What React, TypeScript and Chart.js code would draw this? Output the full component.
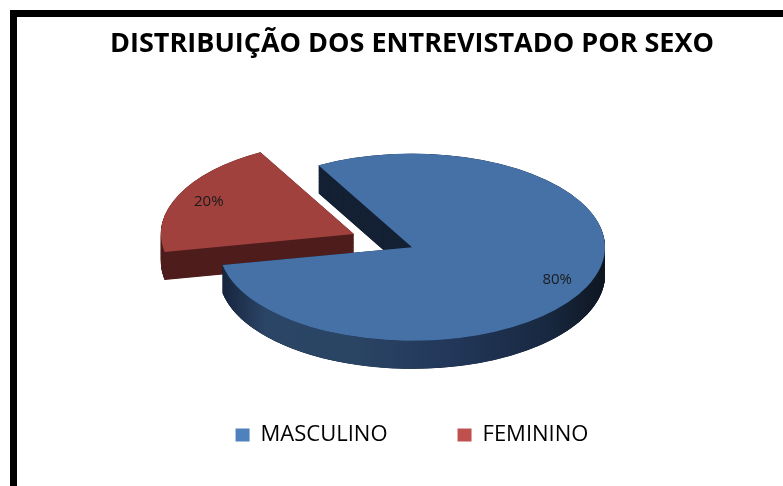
import React, { useEffect, useRef } from 'react';
import { Chart, registerables } from 'chart.js';

Chart.register(...registerables);

const TITLE = 'DISTRIBUIÇÃO DOS ENTREVISTADO POR SEXO';
const categories = ['MASCULINO', 'FEMININO'];
const values = [80, 20];
const legendColors = ['#4F81BD', '#C0504D'];
const topColors = ['#4571a7', '#a0413e'];
const cutColors = ['#142033', '#4f1e1d'];
const explode = [0, 64];

const W = 783;
const H = 486;
const TILT = 0.485;
const DEPTH = 28;
const LABEL_POS = 0.83;

function rimFill(ctx: CanvasRenderingContext2D, i: number) {
  if (i === 1) {
    const g = ctx.createLinearGradient(150, 0, 360, 0);
    g.addColorStop(0, '#4a1c1b');
    g.addColorStop(1, '#561f1e');
    return g;
  }
  const g = ctx.createLinearGradient(219, 0, 606, 0);
  g.addColorStop(0, '#15223a');
  g.addColorStop(0.12, '#2b4566');
  g.addColorStop(0.35, '#2a4464');
  g.addColorStop(0.6, '#22375a');
  g.addColorStop(0.85, '#182840');
  g.addColorStop(1, '#0e1520');
  return g;
}

const pie3d = {
  id: 'pie3d',
  beforeDraw(chart: any) {
    const ctx = chart.ctx;
    ctx.save();
    ctx.fillStyle = '#000';
    ctx.fillRect(10, 10, W - 10, 7);
    ctx.fillRect(10, 10, 7, H - 10);
    ctx.restore();
  },
  beforeDatasetsDraw(chart: any) {
    const meta = chart.getDatasetMeta(0);
    const arcs = meta.data;
    const ctx: CanvasRenderingContext2D = chart.ctx;
    const cx = arcs[0].x;
    const cy = arcs[0].y;
    const depthLocal = DEPTH / TILT;
    const shifted = arcs.map((a: any, i: number) => {
      const mid = (a.startAngle + a.endAngle) / 2;
      const p = Object.create(a);
      p.x = a.x + Math.cos(mid) * explode[i];
      p.y = a.y + Math.sin(mid) * explode[i];
      return p;
    });
    ctx.save();
    ctx.translate(cx, cy);
    ctx.scale(1, TILT);
    ctx.translate(-cx, -cy);
    const order = [1, 0];
    for (const i of order) {
      const p = shifted[i];
      const cut = Object.create(p);
      cut.options = { ...p.options, backgroundColor: cutColors[i], borderWidth: 0, offset: 0 };
      for (let k = depthLocal; k > 0; k -= 0.8) {
        cut.y = p.y + k;
        cut.draw(ctx);
      }
      const r = p.outerRadius;
      const s = p.startAngle;
      const e = p.endAngle;
      for (let w = -1; w <= 1; w++) {
        const lo = Math.max(s, w * 2 * Math.PI);
        const hi = Math.min(e, w * 2 * Math.PI + Math.PI);
        if (hi <= lo) continue;
        ctx.beginPath();
        ctx.arc(p.x, p.y, r, lo, hi);
        ctx.arc(p.x, p.y + depthLocal, r, hi, lo, true);
        ctx.closePath();
        ctx.fillStyle = rimFill(ctx, i);
        ctx.fill();
      }
    }
    for (const i of order) {
      const p = shifted[i];
      const top = Object.create(p);
      top.options = { ...p.options, backgroundColor: topColors[i], borderWidth: 0, offset: 0 };
      top.draw(ctx);
    }
    ctx.restore();

    const total = values.reduce((a, b) => a + b, 0);
    ctx.save();
    ctx.font = '15px "Open Sans"';
    ctx.fillStyle = '#1b1b1b';
    ctx.textAlign = 'center';
    ctx.textBaseline = 'middle';
    shifted.forEach((p: any, i: number) => {
      const mid = (p.startAngle + p.endAngle) / 2;
      const lx = p.x + Math.cos(mid) * p.outerRadius * LABEL_POS;
      const ly = cy + (p.y - cy + Math.sin(mid) * p.outerRadius * LABEL_POS) * TILT;
      ctx.fillText(Math.round((values[i] / total) * 100) + '%', lx, ly);
    });
    ctx.restore();
    return false;
  },
};

export default function App() {
  const ref = useRef<HTMLCanvasElement | null>(null);
  useEffect(() => {
    document.body.style.margin = '0';
    const chart = new Chart(ref.current as HTMLCanvasElement, {
      type: 'pie',
      data: {
        labels: categories,
        datasets: [
          {
            data: values,
            backgroundColor: legendColors,
            borderWidth: 0,
            radius: 193,
            rotation: -29,
          } as any,
        ],
      },
      options: {
        responsive: false,
        animation: false,
        events: [],
        layout: { padding: { top: 28, left: 41, right: 0, bottom: 30 } },
        plugins: {
          title: {
            display: true,
            text: TITLE,
            color: '#000',
            font: { family: '"Open Sans"', size: 27, weight: 'bold' },
            padding: { top: 0, bottom: 80 },
          },
          legend: {
            position: 'bottom',
            labels: {
              boxWidth: 14,
              boxHeight: 13,
              padding: 70,
              color: '#000',
              font: { family: '"Open Sans"', size: 22 },
            },
          },
          tooltip: { enabled: false },
        },
      },
      plugins: [pie3d],
    } as any);
    return () => chart.destroy();
  }, []);
  return (
    <div style={{ width: W, height: H }}>
      <canvas ref={ref} width={W} height={H} style={{ display: 'block' }} />
    </div>
  );
}
